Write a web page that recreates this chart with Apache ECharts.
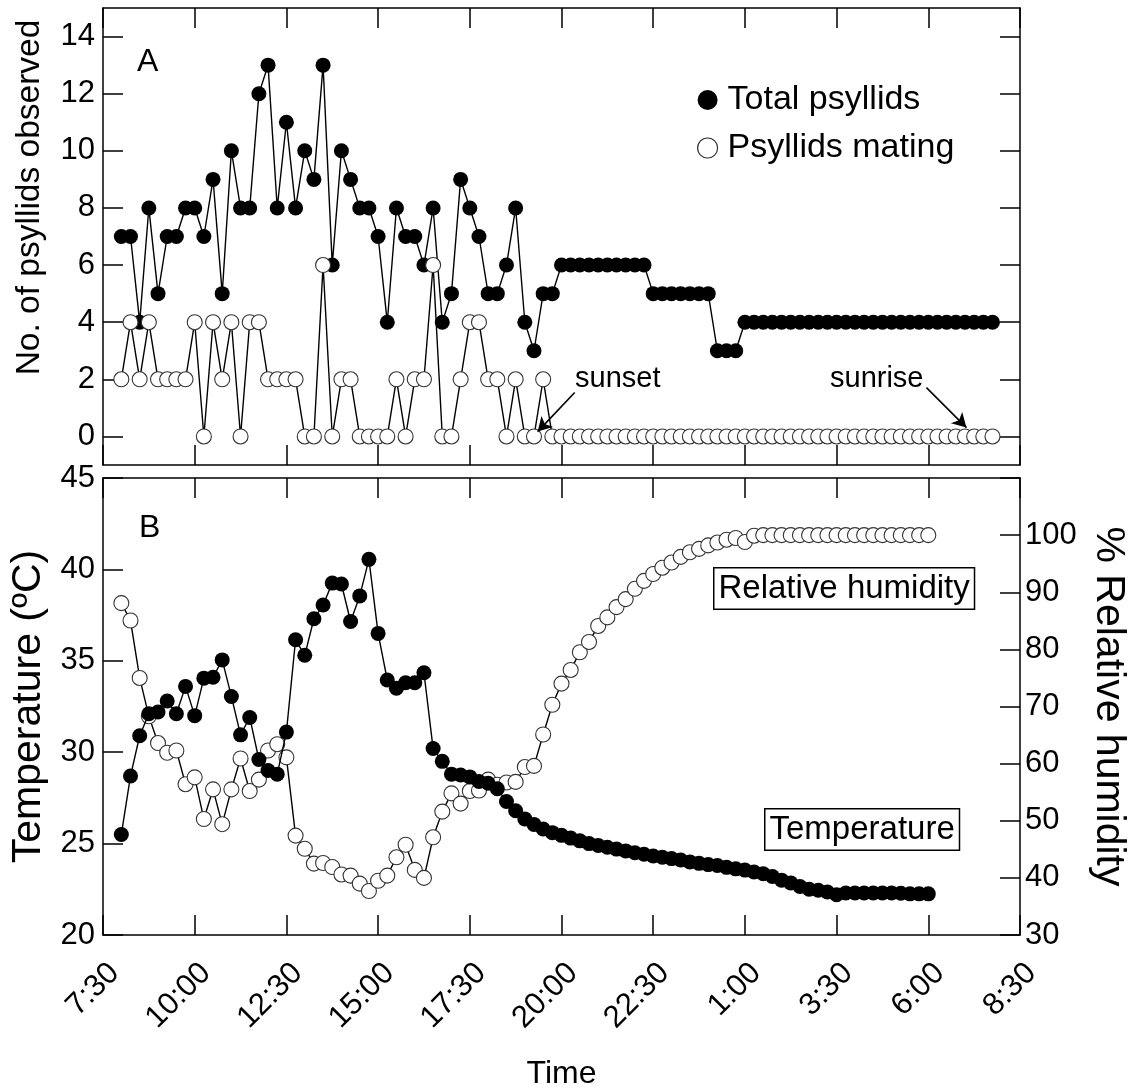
<!DOCTYPE html>
<html><head><meta charset="utf-8">
<script src="https://cdn.jsdelivr.net/npm/echarts@6/dist/echarts.min.js"></script>
<style>html,body{margin:0;padding:0;background:#fff}#c{width:1131px;height:1088px}</style>
</head><body><div id="c"></div>
<script>
// ---- Panel A data (15-min observations, 8:00 to 7:45 next day) ----
const psyllidTimes = [
 "8:00","8:15","8:30","8:45","9:00","9:15","9:30","9:45",
 "10:00","10:15","10:30","10:45","11:00","11:15","11:30","11:45",
 "12:00","12:15","12:30","12:45","13:00","13:15","13:30","13:45",
 "14:00","14:15","14:30","14:45","15:00","15:15","15:30","15:45",
 "16:00","16:15","16:30","16:45","17:00","17:15","17:30","17:45",
 "18:00","18:15","18:30","18:45","19:00","19:15","19:30","19:45",
 "20:00","20:15","20:30","20:45","21:00","21:15","21:30","21:45",
 "22:00","22:15","22:30","22:45","23:00","23:15","23:30","23:45",
 "0:00","0:15","0:30","0:45","1:00","1:15","1:30","1:45",
 "2:00","2:15","2:30","2:45","3:00","3:15","3:30","3:45",
 "4:00","4:15","4:30","4:45","5:00","5:15","5:30","5:45",
 "6:00","6:15","6:30","6:45","7:00","7:15","7:30","7:45"
];
const totalPsyllids = [
 7,7,4,8,5,7,7,8,8,7,9,5,10,8,8,12,13,8,11,8,10,9,13,6,
 10,9,8,8,7,4,8,7,7,6,8,4,5,9,8,7,5,5,6,8,4,3,5,5,
 6,6,6,6,6,6,6,6,6,6,
 5,5,5,5,5,5,5,
 3,3,3,
 4,4,4,4,4,4,4,4,4,4,4,4,4,4,4,4,4,4,4,4,4,4,4,4,4,4,4,4
];
const matingPsyllids = [
 2,4,2,4,2,2,2,2,4,0,4,2,4,0,4,4,2,2,2,2,0,0,6,0,
 2,2,0,0,0,0,2,0,2,2,6,0,0,2,4,4,2,2,0,2,0,0,2,0,
 0,0,0,0,0,0,0,0,0,0,0,0,0,0,0,0,0,0,0,0,0,0,0,0,
 0,0,0,0,0,0,0,0,0,0,0,0,0,0,0,0,0,0,0,0,0,0,0,0
];
const countTicks = [0,2,4,6,8,10,12,14];

// ---- Panel B data (15-min readings, 8:00 to 6:00 next day) ----
const climateTimes = [
 "8:00","8:15","8:30","8:45","9:00","9:15","9:30","9:45",
 "10:00","10:15","10:30","10:45","11:00","11:15","11:30","11:45",
 "12:00","12:15","12:30","12:45","13:00","13:15","13:30","13:45",
 "14:00","14:15","14:30","14:45","15:00","15:15","15:30","15:45",
 "16:00","16:15","16:30","16:45","17:00","17:15","17:30","17:45",
 "18:00","18:15","18:30","18:45","19:00","19:15","19:30","19:45",
 "20:00","20:15","20:30","20:45","21:00","21:15","21:30","21:45",
 "22:00","22:15","22:30","22:45","23:00","23:15","23:30","23:45",
 "0:00","0:15","0:30","0:45","1:00","1:15","1:30","1:45",
 "2:00","2:15","2:30","2:45","3:00","3:15","3:30","3:45",
 "4:00","4:15","4:30","4:45","5:00","5:15","5:30","5:45","6:00"
];
const temperature = [
 25.5,28.7,30.9,32.1,32.2,32.8,32.1,33.6,32.0,34.05,34.1,35.05,33.05,30.95,31.9,29.6,
 29.0,28.8,31.1,36.15,35.3,37.3,38.05,39.25,39.2,37.15,38.55,40.55,36.5,33.95,33.5,33.8,
 33.8,34.35,30.2,29.5,28.8,28.75,28.65,28.4,28.3,28.0,27.3,26.8,26.35,26.05,25.8,25.6,
 25.45,25.3,25.15,25.0,24.9,24.8,24.7,24.6,24.5,24.42,24.32,24.25,24.18,24.1,24.0,23.92,
 23.85,23.8,23.7,23.62,23.55,23.45,23.35,23.2,23.0,22.85,22.65,22.5,22.45,22.35,22.2,22.3,
 22.3,22.3,22.3,22.3,22.3,22.28,22.25,22.25,22.25
];
const humidity = [
 88.1,85.05,75.0,68.3,63.6,61.9,62.3,56.4,57.6,50.3,55.5,49.4,55.5,60.9,55.2,57.2,
 62.3,63.4,61.1,47.4,45.1,42.5,42.6,41.9,40.6,40.4,39.0,37.7,39.5,40.4,43.6,45.8,
 41.4,40.0,47.1,51.6,54.8,53.0,55.2,55.3,57.2,56.3,56.7,56.8,59.4,59.6,65.1,70.3,
 74.0,76.4,79.5,81.3,84.1,85.6,87.4,88.8,90.6,92.0,93.2,94.3,95.2,96.2,97.0,97.6,
 98.2,98.7,99.2,99.5,98.8,99.9,100,100,100,100,100,100,100,100,100,100,
 100,100,100,100,100,100,100,100,100
];

// clock time -> hours since midnight of day 1 (times before 8:00 belong to the next day)
function toHours(t){ const p=t.split(':'); let h=+p[0]+(+p[1])/60; if(h<8) h+=24; return h; }
function fmtTime(v){ const hh=Math.floor(v+1e-6); const m=Math.round((v-hh)*60); return (hh%24)+':'+(m<10?'0':'')+m; }

const FONT='Liberation Sans, Arial, sans-serif';
const lineBlack={color:'#000',width:1.5};
const xBase=(grid,pos)=>({type:'value',gridIndex:grid,position:pos,min:7.5,max:32.5,interval:2.5,
  splitLine:{show:false},axisLine:{show:true,onZero:false,lineStyle:lineBlack},
  axisTick:{show:true,inside:true,length:20,lineStyle:lineBlack},axisLabel:{show:false}});
const lab={color:'#000',fontSize:31,fontFamily:FONT};

const option={
  animation:false,
  backgroundColor:'#fff',
  grid:[{left:103,right:111,top:8,height:457,containLabel:false,outerBoundsMode:'none'},
        {left:103,right:111,top:478,height:457,containLabel:false,outerBoundsMode:'none'}],
  xAxis:[
    xBase(0,'bottom'), xBase(0,'top'),
    Object.assign(xBase(1,'bottom'),{axisLabel:Object.assign({show:true,rotate:45,margin:22,align:'right',verticalAlign:'top',lineHeight:32,formatter:fmtTime},lab),
      name:'Time',nameLocation:'middle',nameGap:123,nameTextStyle:{color:'#000',fontSize:32,fontFamily:FONT}}),
    xBase(1,'top')
  ],
  yAxis:[
    {type:'value',gridIndex:0,position:'left',min:-1,max:15,splitLine:{show:false},
     axisLine:{show:true,onZero:false,lineStyle:lineBlack},
     axisTick:{show:true,inside:true,length:20,lineStyle:lineBlack,customValues:countTicks},
     axisLabel:Object.assign({customValues:countTicks,margin:8},lab),
     name:'No. of psyllids observed',nameLocation:'middle',nameGap:56,
     nameTextStyle:{color:'#000',fontSize:33.5,fontFamily:FONT,padding:[0,0,0,78]}},
    {type:'value',gridIndex:0,position:'right',min:-1,max:15,splitLine:{show:false},
     axisLine:{show:true,onZero:false,lineStyle:lineBlack},
     axisTick:{show:true,inside:true,length:20,lineStyle:lineBlack,customValues:countTicks},
     axisLabel:{show:false}},
    {type:'value',gridIndex:1,position:'left',min:20,max:45,interval:5,splitLine:{show:false},
     axisLine:{show:true,onZero:false,lineStyle:lineBlack},
     axisTick:{show:true,inside:true,length:20,lineStyle:lineBlack},
     axisLabel:Object.assign({margin:8},lab),
     name:'Temperature (ºC)',nameLocation:'middle',nameGap:52,
     nameTextStyle:{color:'#000',fontSize:41,fontFamily:FONT}},
    {type:'value',gridIndex:1,position:'right',min:30,max:110,interval:10,splitLine:{show:false},
     axisLine:{show:true,onZero:false,lineStyle:lineBlack},
     axisTick:{show:true,inside:true,length:20,lineStyle:lineBlack},
     axisLabel:Object.assign({margin:5,formatter:v=>v>100?'':String(v)},lab),
     name:'% Relative humidity',nameLocation:'middle',nameGap:61,nameRotate:-90,
     nameTextStyle:{color:'#000',fontSize:41,fontFamily:FONT}}
  ],
  legend:{orient:'vertical',left:692,top:78,itemGap:14,itemWidth:20,itemHeight:20,icon:'circle',
    textStyle:{color:'#000',fontSize:34,fontFamily:FONT,lineHeight:34,padding:[0,0,0,5]},
    data:[{name:'Total psyllids',itemStyle:{color:'#000'}},
          {name:'Psyllids mating',itemStyle:{color:'#fff',borderColor:'#333',borderWidth:1.2}}]},
  series:[
    {name:'Total psyllids',type:'line',xAxisIndex:0,yAxisIndex:0,z:2,showAllSymbol:true,
     symbol:'circle',symbolSize:15,itemStyle:{color:'#000'},lineStyle:{color:'#000',width:1.4},
     data:psyllidTimes.map((t,i)=>[toHours(t),totalPsyllids[i]])},
    {name:'Psyllids mating',type:'line',xAxisIndex:0,yAxisIndex:0,z:3,showAllSymbol:true,
     symbol:'circle',symbolSize:15,itemStyle:{color:'#fff',borderColor:'#333',borderWidth:1.1},
     lineStyle:{color:'#000',width:1.4},
     data:psyllidTimes.map((t,i)=>[toHours(t),matingPsyllids[i]]),
     markLine:{silent:true,symbol:['none','arrow'],symbolSize:[12,14],label:{show:false},
       lineStyle:{color:'#000',width:1.6,type:'solid'},
       data:[[{coord:[20.36,1.54]},{coord:[19.35,0.17]}],[{coord:[29.95,1.71]},{coord:[31.04,0.31]}]]}},
    {name:'Relative humidity',type:'line',xAxisIndex:2,yAxisIndex:3,z:2,showAllSymbol:true,
     symbol:'circle',symbolSize:15,itemStyle:{color:'#fff',borderColor:'#333',borderWidth:1.1},
     lineStyle:{color:'#000',width:1.4},
     data:climateTimes.map((t,i)=>[toHours(t),humidity[i]])},
    {name:'Temperature',type:'line',xAxisIndex:2,yAxisIndex:2,z:3,showAllSymbol:true,
     symbol:'circle',symbolSize:15,itemStyle:{color:'#000'},lineStyle:{color:'#000',width:1.4},
     data:climateTimes.map((t,i)=>[toHours(t),temperature[i]])}
  ],
  graphic:[
    {type:'text',left:137,top:46,style:{text:'A',fontSize:32,fontFamily:FONT,fill:'#000'}},
    {type:'text',left:139,top:512,style:{text:'B',fontSize:32,fontFamily:FONT,fill:'#000'}},
    {type:'text',left:575,top:364,style:{text:'sunset',fontSize:29,fontFamily:FONT,fill:'#000'}},
    {type:'text',left:830,top:364,style:{text:'sunrise',fontSize:29,fontFamily:FONT,fill:'#000'}},
    {type:'text',left:713,top:567,z:10,style:{text:'Relative humidity',fontSize:33,fontFamily:FONT,fill:'#000',
      backgroundColor:'#fff',borderColor:'#000',borderWidth:1.5,padding:[4,4,3,4]}},
    {type:'text',left:764,top:808,z:10,style:{text:'Temperature',fontSize:33,fontFamily:FONT,fill:'#000',
      backgroundColor:'#fff',borderColor:'#000',borderWidth:1.5,padding:[4,4,3,4]}}
  ]
};
const chart=echarts.init(document.getElementById('c'),null,{renderer:'canvas'});
chart.setOption(option);
</script></body></html>
